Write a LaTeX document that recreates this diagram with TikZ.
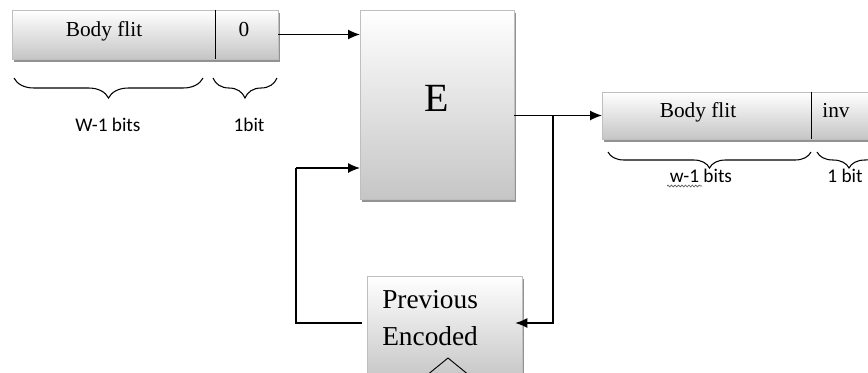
\documentclass[tikz,border=0pt]{standalone}
\usepackage{fontspec}
\setmainfont{Liberation Serif}
\newfontfamily\lblfont{Carlito}
\usetikzlibrary{arrows.meta,shadows,decorations.pathreplacing,decorations.pathmorphing,calc}
\begin{document}
\begin{tikzpicture}[x=0.75pt,y=0.75pt,
 blk/.style={draw=gray!50, line width=0.6pt, top color=white, bottom color=gray!45,
   drop shadow={shadow xshift=1.2pt, shadow yshift=-2.4pt, fill=gray!85, opacity=1},
   inner sep=0pt, outer sep=0pt},
 wire/.style={line width=0.9pt, draw=black},
 arr/.style={wire, -{Latex[length=9pt,width=7.5pt]}},
 brc/.style={decorate, decoration={brace, mirror, amplitude=#1}, line width=0.8pt},
 lbl/.style={font=\lblfont\fontsize{14.5}{16}\selectfont, anchor=base, inner sep=0pt},
 txt/.style={font=\fontsize{16}{18}\selectfont, anchor=base, inner sep=0pt},
 divl/.style={line width=0.7pt, black}]
\useasboundingbox (0,0) rectangle (868,-372);
\clip (0,0) rectangle (868,-372);
% left flit
\node[blk, minimum width=199.5pt, minimum height=36.75pt] (lflit) at (145,-34.5) {};
\draw[divl] (215,-10) -- (215,-59);
\node[txt] (lbody) at (104,-36) {Body flit};
\node[txt] (lzero) at (244,-36) {0};
\draw[brc=15pt] (14,-78) -- (203,-78);
\draw[brc=15pt] (213,-78) -- (277,-78);
\node[lbl] (lw) at (108,-131) {W-1 bits};
\node[lbl] (l1) at (249,-131) {1bit};
% encoder
\node[blk, minimum width=115.5pt, minimum height=141.75pt] (E) at (437,-104.5) {};
\node[font=\fontsize{30}{32}\selectfont, anchor=base, inner sep=0pt] (Et) at (437,-111) {E};
% right flit
\node[blk, minimum width=216pt, minimum height=35.25pt] (rflit) at (746,-115.5) {};
\draw[divl] (811,-92) -- (811,-139);
\node[txt] (rbody) at (698,-117) {Body flit};
\node[txt] (rinv) at (836,-117) {inv};
\draw[brc=12pt] (608,-152) -- (811,-152);
\draw[brc=12pt] (817,-152) -- (881,-152);
\node[lbl] (rw) at (701,-182) {w-1 bits};
\node[lbl] (r1) at (845,-182) {1 bit};
\draw[gray!70!black, line width=0.5pt, decorate, decoration={snake, amplitude=0.7pt, segment length=2.6pt}] (667,-186) -- (702,-186);
% previous encoded
\node[blk, minimum width=116.25pt, minimum height=78pt] (prev) at (444.5,-328) {};
\node[font=\fontsize{20.5}{22}\selectfont, anchor=base west, inner sep=0pt] (pv1) at (382,-308) {Previous};
\node[font=\fontsize{20.5}{22}\selectfont, anchor=base west, inner sep=0pt] (pv2) at (382,-345) {Encoded};
\draw[line width=0.7pt, draw=black] (426,-376) -- (448,-358) -- (470,-376);
% connectors
\coordinate (br) at (553,-115.5);
\coordinate (fb) at (296,-168);
\draw[arr] (lflit.east) -- (E.west |- lflit.east);
\draw[arr] (E.east |- rflit.west) -- (rflit.west);
\draw[arr, shorten >=-5pt] (br) |- ([yshift=3.75pt]prev.east);
\draw[wire] ([xshift=-4pt,yshift=3.75pt]prev.west) -| (fb);
\draw[arr] (fb) -- (E.west |- fb);
\end{tikzpicture}
\end{document}
